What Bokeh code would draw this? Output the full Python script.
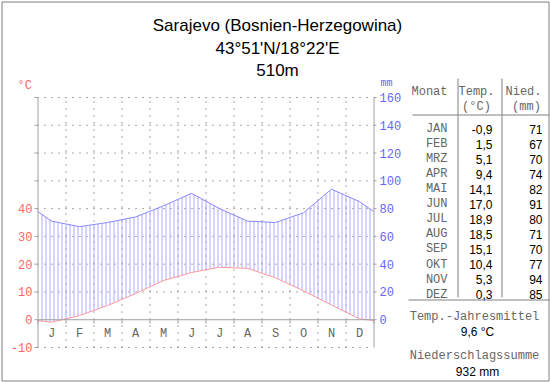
import numpy as np
from bokeh.plotting import figure
from bokeh.models import Range1d
from bokeh.embed import file_html
from bokeh.resources import INLINE
from bokeh.core.properties import value

# ---------------- data ----------------
title_lines = ["Sarajevo (Bosnien-Herzegowina)", "43°51'N/18°22'E", "510m"]
month_letters = ["J", "F", "M", "A", "M", "J", "J", "A", "S", "O", "N", "D"]
month_names = ["JAN", "FEB", "MRZ", "APR", "MAI", "JUN", "JUL", "AUG", "SEP", "OKT", "NOV", "DEZ"]
temp = [-0.9, 1.5, 5.1, 9.4, 14.1, 17.0, 18.9, 18.5, 15.1, 10.4, 5.3, 0.3]
precip = [71, 67, 70, 74, 82, 91, 80, 71, 70, 77, 94, 85]
temp_ticks = [-10, 0, 10, 20, 30, 40]
temp_grid = [-10, 0, 10, 20, 30, 40, 50, 60, 70, 80]
precip_ticks = [0, 20, 40, 60, 80, 100, 120, 140, 160]

RED = "#ff6666"
BLUE = "#6666ff"
GRAY = "#a0a0a0"
TXT = "#666666"
MONO = value("Liberation Mono")
SANS = value("Liberation Sans")

W, H = 550, 382
# chart frame in page pixels
FX0, FX1, FY_TOP, FY_BOT = 37, 373, 97, 347
ppm = (FX1 - FX0) / 12.0            # pixels per month
ppd = (FY_BOT - FY_TOP) / 90.0      # pixels per degree
x_start = -FX0 / ppm
x_end = (W - FX0) / ppm
y_top = 80 + FY_TOP / ppd
y_bot = -10 - (H - FY_BOT) / ppd

p = figure(width=W, height=H, x_range=Range1d(x_start, x_end), y_range=Range1d(y_bot, y_top),
           output_backend="svg", toolbar_location=None,
           x_axis_location=None, y_axis_location=None,
           min_border=0, min_border_left=0, min_border_right=0, min_border_top=0, min_border_bottom=0,
           outline_line_color=None, background_fill_color="white", border_fill_color="white")
p.extra_y_ranges = {"mm": Range1d(2 * y_bot, 2 * y_top), "py": Range1d(H, 0)}
p.extra_x_ranges = {"px": Range1d(0, W)}
p.xgrid.visible = False
p.ygrid.visible = False

hx = 0.5 / ppm  # half pixel, for crisp vertical lines
tick = 3 / ppm

# dotted grid
hy = [v for v in temp_grid if v != 0]
p.segment(x0=[0] * len(hy), x1=[12] * len(hy), y0=hy, y1=hy,
          line_color="#555555", line_dash="1 6", line_width=1)
vx = np.arange(1, 12) + hx
p.segment(x0=vx, x1=vx, y0=[-10] * len(vx), y1=[80] * len(vx),
          line_color="#555555", line_dash="1 6", line_width=1)

# curves (month centres, edges wrapped between Dec and Jan)
xc = np.concatenate([[0.0], np.arange(12) + 0.5, [12.0]])
t_edge = (temp[0] + temp[-1]) / 2
p_edge = (precip[0] + precip[-1]) / 2
tc = np.array([t_edge] + temp + [t_edge])
pc = np.array([p_edge] + precip + [p_edge], dtype=float)

xs = np.arange(1, 84) / 7.0
y0 = np.interp(xs, xc, tc)
y1 = np.interp(xs, xc, pc / 2.0)
p.segment(x0=xs + hx, x1=xs + hx, y0=y0, y1=y1, line_color="#aaaaff", line_width=1)
p.line(xc, pc, y_range_name="mm", line_color="#8888ff", line_width=1)
p.line(xc, tc, line_color="#ff9999", line_width=1)

# axes
p.segment(x0=[hx, 12 + hx], x1=[hx, 12 + hx], y0=[-10, -10], y1=[80, 80], line_color=GRAY)
p.segment(x0=[0] * len(temp_grid), x1=[-tick] * len(temp_grid), y0=temp_grid, y1=temp_grid,
          line_color=GRAY)
p.text(x=[0] * len(temp_ticks), y=temp_ticks, text=[str(v) for v in temp_ticks],
       x_offset=-5, text_align="right", text_baseline="middle",
       text_font=MONO, text_font_size="12px", text_color=RED)
p.segment(x0=[12] * len(precip_ticks), x1=[12 + tick] * len(precip_ticks),
          y0=precip_ticks, y1=precip_ticks, y_range_name="mm", line_color=GRAY)
p.text(x=[12] * len(precip_ticks), y=precip_ticks, text=[str(v) for v in precip_ticks],
       x_offset=6, text_align="left", text_baseline="middle", y_range_name="mm",
       text_font=MONO, text_font_size="12px", text_color=BLUE)
# zero axis and month ticks
p.line([0, 12], [0, 0], line_color=GRAY, line_width=1)
mx = np.arange(0, 13) + hx
p.segment(x0=mx, x1=mx, y0=[0] * len(mx), y1=[-4 / ppd] * len(mx), line_color=GRAY)
p.text(x=np.arange(12) + 0.5, y=[-5] * 12, text=month_letters, text_align="center",
       text_baseline="middle", text_font=MONO, text_font_size="12px", text_color=TXT)


def lab(X, P, text, align="left", font=MONO, size="12px", color=TXT):
    p.text(x=[X], y=[P], text=[text], x_range_name="px", y_range_name="py",
           text_align=align, text_baseline="alphabetic", text_font=font,
           text_font_size=size, text_color=color)


def pline(xs_, ys_, color="#808080", width=1):
    p.line(xs_, ys_, x_range_name="px", y_range_name="py", line_color=color, line_width=width)


# outer frame
pline([1.5, 548.5, 548.5, 1.5, 1.5], [1.5, 1.5, 380.5, 380.5, 1.5], color="#808080", width=1)

for tl, base in zip(title_lines, [24.5, 48, 70]):
    lab(277, base, tl, align="center", font=SANS, size="17px", color="black")

lab(17, 85, "°C", color=RED, size="12px")
lab(380, 83, "mm", color=BLUE, size="10px")

# table
lab(447, 91.5, "Monat", align="right")
lab(476, 91.5, "Temp.", align="center")
lab(476, 106, "(°C)", align="center")
lab(523, 91.5, "Nied.", align="center")
lab(526, 106, "(mm)", align="center")
pline([457.5, 457.5], [78, 297])
pline([501.5, 501.5], [78, 297])
pline([412, 549], [114.5, 114.5])
pline([408, 549], [299.5, 299.5])
for i, m in enumerate(month_names):
    base = 128.5 + 15.06 * i
    lab(447, base, m, align="right")
    lab(492, base, f"{temp[i]:.1f}".replace(".", ","), align="right", font=SANS, color="black")
    lab(542, base, f"{precip[i]}", align="right", font=SANS, color="black")

mean_t = sum(temp) / len(temp)
sum_p = sum(precip)
lab(474, 316, "Temp.-Jahresmittel", align="center")
lab(477, 331, f"{mean_t:.1f}".replace(".", ",") + " °C", align="center", font=SANS, color="black")
lab(474, 355, "Niederschlagssumme", align="center")
lab(477, 371, f"{sum_p} mm", align="center", font=SANS, color="black")

open("out.html", "w").write(file_html(p, INLINE))
